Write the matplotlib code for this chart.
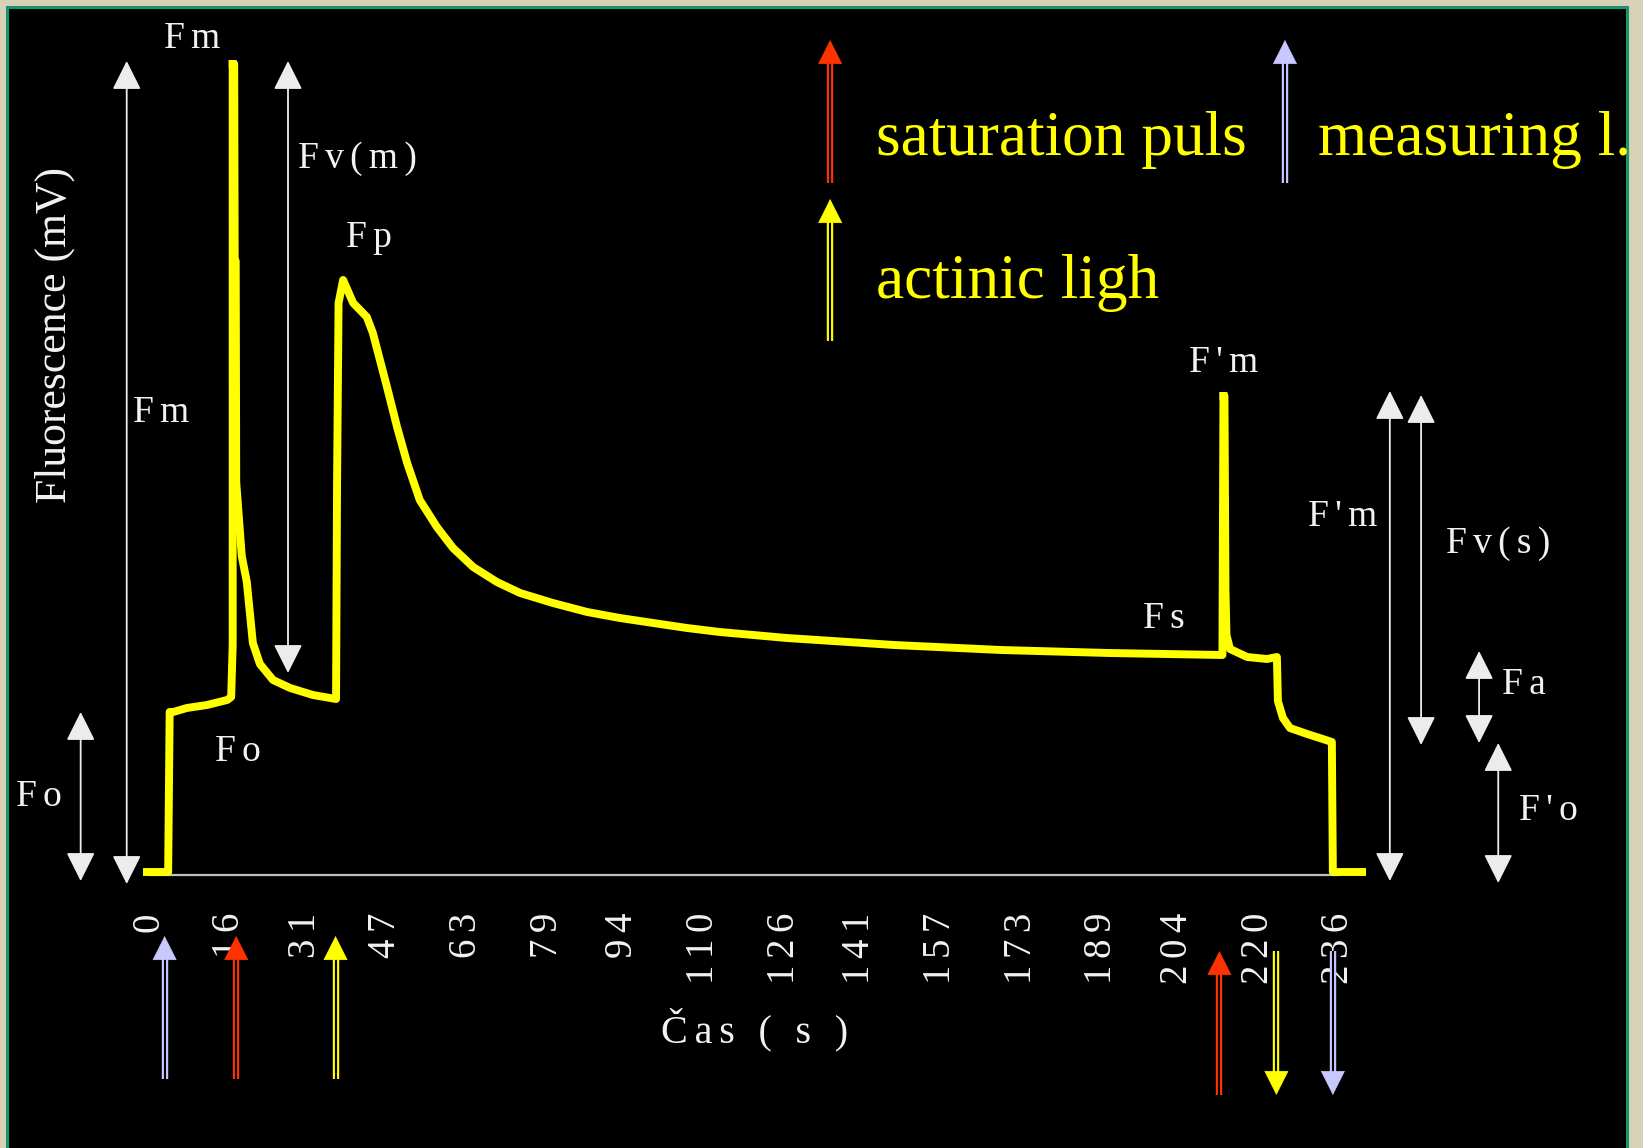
import matplotlib
matplotlib.use('Agg')
import matplotlib.pyplot as plt
from matplotlib.patches import Rectangle

# fluorescence trace (time in s, signal in mV)
time_s = [-0.4, 3.8, 4.1, 4.8, 7.5, 11.5, 15.5, 16.3, 16.6, 16.6, 16.9, 17.0, 17.2,
          17.3, 18.4, 19.4, 20.6, 22.0, 24.6, 28.0, 32.5, 37.1, 37.3, 37.6, 38.5,
          40.5, 43.2, 44.4, 45.8, 47.2, 49.2, 51.2, 53.7, 57.1, 60.3, 64.3, 69.0,
          73.6, 80.1, 86.9, 93.4, 100.0, 106.7, 113.2, 126.5, 147.8, 169.0, 190.4,
          212.9, 213.1, 213.3, 213.4, 213.5, 213.7, 214.4, 217.8, 221.7, 223.7,
          223.9, 224.9, 226.3, 229.7, 232.8, 234.6, 234.8, 240.6]
fluor_mv = [3, 3, 163, 163, 167, 170, 175, 178, 230, 811, 811, 614, 614,
            393, 319, 293, 232, 211, 195, 187, 180, 176, 392, 572, 595,
            572, 558, 542, 515, 488, 448, 412, 375, 348, 327, 308, 293,
            282, 272, 263, 257, 252, 247, 243, 237, 230, 225, 222,
            220, 479, 479, 383, 285, 240, 226, 218, 216, 218,
            174, 157, 147, 141, 136, 133, 3, 3]

tick_vals = [0, 16, 31, 47, 63, 79, 94, 110, 126, 141, 157, 173, 189, 204, 220, 236]

# light switching events under the time axis
event_time = [3.1, 17.3, 37.0, 212.3, 223.6, 234.8]
event_light = ['measuring', 'saturation', 'actinic', 'saturation', 'actinic', 'measuring']
event_up = [True, True, True, True, False, False]

light_colors = {'saturation': '#ff3300', 'measuring': '#c8c8ff', 'actinic': '#ffff00'}

# parameter brackets: time, low, high
dim_time = [-13.55, -4.42, 27.57, 246.1, 252.3, 263.8, 267.6]
dim_low = [-6, -9, 202, -6, 130, 132, -8]
dim_high = [163, 814, 814, 484, 480, 224, 132]

# point labels: text, time, level, alignment
label_text = ['Fm', 'Fv(m)', 'Fp', 'Fm', 'Fo', 'Fo', 'Fs', "F'm", "F'm", 'Fv(s)', 'Fa', "F'o"]
label_time = [8.5, 29.5, 39.0, -3.2, -26.4, 13.1, 197.1, 213.2, 229.9, 257.2, 268.3, 271.7]
label_level = [827, 707, 628, 453, 69, 114, 247, 503, 349, 322, 181, 55]
label_ha = ['center', 'left', 'left', 'left', 'left', 'left', 'left', 'center',
            'left', 'left', 'left', 'left']

plt.rcParams['font.family'] = ['Liberation Serif', 'DejaVu Serif']


def spaced(s):
    # the old slide letter-spaces its white labels
    return '\u2006'.join(s)


W, H = 1643, 1148
fig = plt.figure(figsize=(W / 100, H / 100), dpi=100, facecolor='#d9d0b8')
panel = Rectangle((6.5 / W, -0.01), 1620 / W, 1 - 6.5 / H + 0.01,
                  transform=fig.transFigure, facecolor='black',
                  edgecolor='#17956f', lw=2.2, zorder=-1)
fig.add_artist(panel)

ax = fig.add_axes([0, 0, 1, 1])
ax.set_facecolor('none')
ax.set_xlim(-29.55, 296.31)
ax.set_ylim(-273, 875)

for s in ['left', 'right', 'top']:
    ax.spines[s].set_visible(False)
ax.spines['bottom'].set_position(('data', 0))
ax.spines['bottom'].set_color('#c0c0c0')
ax.spines['bottom'].set_linewidth(1.6)
ax.spines['bottom'].set_bounds(0, 236)
ax.set_xticks(tick_vals)
ax.set_xticklabels([spaced(str(v)) for v in tick_vals])
ax.set_yticks([])
ax.tick_params(axis='x', length=0, pad=27, labelsize=28, labelcolor='#f2f2f2',
               labelrotation=90)

# split the trace at the two pulse peaks so the narrow spikes render solid
cuts = [0, fluor_mv.index(811), fluor_mv.index(479), len(time_s) - 1]
for a, b in zip(cuts[:-1], cuts[1:]):
    ax.plot(time_s[a:b + 1], fluor_mv[a:b + 1], color='#ffff00', lw=5.7, zorder=3)


def light_arrow(x, y_from, y_to, color):
    # two thin lines with a filled head
    head = 23 if y_to > y_from else -23
    ax.plot([x, x], [y_from, y_to - head], color=color, lw=4.6,
            solid_capstyle='butt', zorder=4)
    ax.plot([x, x], [y_from, y_to - head], color='black', lw=1.5,
            solid_capstyle='butt', zorder=4)
    ax.annotate('', xy=(x, y_to), xytext=(x, y_to - head),
                arrowprops=dict(arrowstyle='-|>,head_length=16.5,head_width=8.3',
                                mutation_scale=1, color=color, lw=0.5,
                                shrinkA=0, shrinkB=0), zorder=4)


for i, t in enumerate(event_time):
    lo, hi = (-204, -61) if i < 3 else (-220, -76)
    c = light_colors[event_light[i]]
    if event_up[i]:
        light_arrow(t, lo, hi, c)
    else:
        light_arrow(t, hi, lo, c)

# legend of the light sources
light_arrow(135.1, 692, 835, light_colors['saturation'])
light_arrow(225.3, 692, 835, light_colors['measuring'])
light_arrow(135.1, 534, 676, light_colors['actinic'])
ax.text(144.2, 720, 'saturation puls', color='#ffff00', fontsize=45.5)
ax.text(144.2, 577, 'actinic ligh', color='#ffff00', fontsize=45.5)
ml = ax.text(231.9, 720, 'measuring l.', color='#ffff00', fontsize=45.5)
ml.set_clip_path(panel)

for t, lo, hi in zip(dim_time, dim_low, dim_high):
    ax.annotate('', xy=(t, hi), xytext=(t, lo),
                arrowprops=dict(arrowstyle='<|-|>,head_length=18,head_width=9',
                                mutation_scale=1, color='#ececec', lw=1.3,
                                shrinkA=0, shrinkB=0))

for txt, t, v, ha in zip(label_text, label_time, label_level, label_ha):
    ax.text(t, v, spaced(txt), color='#f2f2f2', fontsize=27, ha=ha, va='baseline')

ax.text(-18.64, 540, 'Fluorescence (mV)', color='#f2f2f2', fontsize=31.5,
        rotation=90, ha='center', va='center')
ax.text(120.2, -167, spaced('Čas ( s )'), color='#f2f2f2', fontsize=29,
        ha='center', va='baseline')

fig.savefig('out.png', dpi=100, facecolor=fig.get_facecolor())
